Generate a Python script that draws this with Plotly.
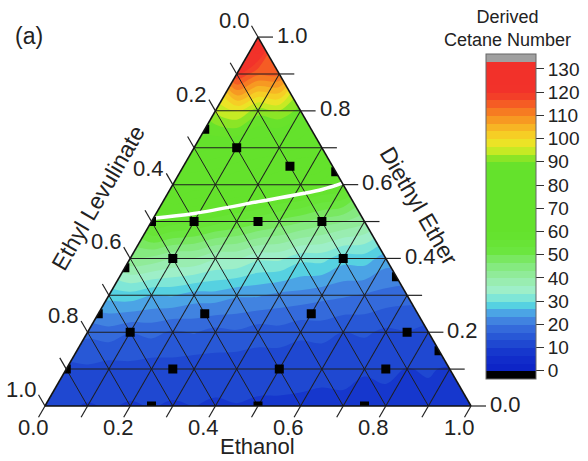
import numpy as np
import plotly.graph_objects as go

# ---------------------------------------------------------------------------
# Data
# ---------------------------------------------------------------------------
# Measured blends (mole fractions): diethyl ether, ethyl levulinate, ethanol
blend_dee = [0.75, 0.50, 0.375, 0.25, 0.10, 0.635, 0.35, 0.15, 0.00, 0.00, 0.00,
             0.70, 0.65, 0.50, 0.50, 0.50, 0.40, 0.40, 0.25, 0.25, 0.20, 0.20,
             0.10, 0.10, 0.10]
blend_el = [0.25, 0.50, 0.625, 0.75, 0.90, 0.00, 0.00, 0.00, 0.75, 0.50, 0.25,
            0.20, 0.10, 0.40, 0.25, 0.10, 0.50, 0.10, 0.50, 0.25, 0.70, 0.05,
            0.65, 0.40, 0.15]
blend_eth = [0.00, 0.00, 0.00, 0.00, 0.00, 0.365, 0.65, 0.85, 0.25, 0.50, 0.75,
             0.10, 0.25, 0.10, 0.25, 0.40, 0.10, 0.50, 0.25, 0.50, 0.10, 0.75,
             0.25, 0.50, 0.75]

# Highlighted iso-DCN line
iso_dee = [0.509, 0.522, 0.554, 0.587, 0.604]
iso_el = [0.491, 0.389, 0.222, 0.056, 0.000]
iso_eth = [0.000, 0.089, 0.224, 0.357, 0.396]

# Derived cetane number on the 0.1 composition lattice.
# Row k: diethyl ether fraction k/10; entries step ethanol 0, 0.1, ...
dcn_rows = [
    [9.8, 9.7, 9.6, 9.6, 9.5, 9.5, 9.4, 9.4, 9.3, 9.3, 9.2],
    [12.0, 11.7, 11.4, 11.1, 10.8, 10.5, 10.3, 10.1, 9.9, 9.7],
    [17.5, 16.8, 16.1, 15.4, 14.7, 14.0, 13.3, 12.6, 12.0],
    [28.0, 26.6, 25.2, 23.8, 22.4, 21.0, 19.6, 18.0],
    [43.0, 40.0, 37.0, 34.0, 31.0, 28.0, 25.0],
    [60.0, 57.0, 53.0, 49.0, 45.0, 41.0],
    [76.0, 72.0, 68.0, 64.0, 60.0],
    [85.0, 82.0, 79.0, 76.0],
    [94.0, 91.5, 88.5],
    [120.0, 114.0],
    [131.0],
]

grid_vals = [0.0, 0.1, 0.2, 0.3, 0.4, 0.5, 0.6, 0.7, 0.8, 0.9, 1.0]
label_vals = [0.0, 0.2, 0.4, 0.6, 0.8, 1.0]
cbar_ticks = [0, 10, 20, 30, 40, 50, 60, 70, 80, 90, 100, 110, 120, 130]

# ---------------------------------------------------------------------------
# Geometry / style
# ---------------------------------------------------------------------------
FIG_W, FIG_H = 588, 461
TRI_X0, TRI_BASE, TRI_W = 45.0, 406.0, 426.0
TRI_H = TRI_W * np.sqrt(3) / 2
SIN60, COS60 = np.sqrt(3) / 2, 0.5

FONT = "Liberation Sans, Arial, sans-serif"
INK = "#222222"

dom_x = [TRI_X0 / FIG_W, (TRI_X0 + TRI_W) / FIG_W]
dom_y = [(FIG_H - TRI_BASE) / FIG_H, (FIG_H - TRI_BASE + TRI_H) / FIG_H]

LEV_STEP = 10.0 / 3.0
N_BANDS = 40
LEV_START = 0.0
LEV_END = LEV_START + N_BANDS * LEV_STEP

# colour ramp of the DCN scale
ramp = [
    (0.0, "#0b22c6"), (7.0, "#1330cb"), (10.5, "#1c42cf"), (14.0, "#2553d5"),
    (17.5, "#3164da"), (21.0, "#3f7ddf"), (24.5, "#4a9de6"), (28.0, "#52cfe2"),
    (31.5, "#7de6d8"), (35.0, "#9eefc8"), (40.0, "#96eca6"), (46.0, "#82ea78"),
    (52.0, "#6ae63c"), (60.0, "#64e22c"), (88.0, "#64e22c"), (92.0, "#8ee526"),
    (95.0, "#c6ea24"), (99.0, "#f4e226"), (104.0, "#f7bd24"), (109.0, "#f79422"),
    (113.0, "#f66f22"), (117.0, "#f44a26"), (120.0, "#f2322a"), (134.0, "#f2302a"),
]


def hex_rgb(h):
    h = h.lstrip("#")
    return np.array([int(h[i:i + 2], 16) for i in (0, 2, 4)], dtype=float)


ramp_v = np.array([r[0] for r in ramp])
ramp_c = np.array([hex_rgb(r[1]) for r in ramp])


def ramp_color(v):
    rgb = [np.interp(v, ramp_v, ramp_c[:, i]) for i in range(3)]
    return "rgb(%d,%d,%d)" % tuple(int(round(c)) for c in rgb)


band_colors = [ramp_color(LEV_START + (i + 0.5) * LEV_STEP) for i in range(N_BANDS)]

# contour fill colours: each band is sampled at its mid value
n_lev = N_BANDS + 1
fill_scale = []
for i in range(-1, N_BANDS + 1):
    col = band_colors[min(max(i, 0), N_BANDS - 1)]
    fill_scale.append([(i + 1) / n_lev, col])

# stepped colour bar with an under-range (black) and over-range (grey) cap
cb_min = LEV_START - LEV_STEP
cb_max = LEV_END + LEV_STEP
segments = ["#000000"] + band_colors + ["#a0a0a0"]
n_seg = len(segments)
bar_scale = []
for s, col in enumerate(segments):
    bar_scale.append([s / n_seg, col])
    bar_scale.append([(s + 1) / n_seg, col])


def tern_px(dee, eth):
    x = TRI_X0 + TRI_W * (eth + dee / 2.0)
    y = TRI_BASE - TRI_H * dee
    return x, y


def paper(x, y):
    return x / FIG_W, 1 - y / FIG_H


# ---------------------------------------------------------------------------
# DCN surface (cartesian frame aligned with the ternary triangle)
# ---------------------------------------------------------------------------
lat_x, lat_y, lat_z = [], [], []
for k, row in enumerate(dcn_rows):
    dee = k / 10.0
    for j, val in enumerate(row):
        eth = j / 10.0
        el = 1.0 - dee - eth
        lat_x.append(round(eth - el, 6))
        lat_y.append(round(dee, 6))
        lat_z.append(val)

fig = go.Figure()

fig.add_trace(go.Contour(
    x=lat_x, y=lat_y, z=lat_z,
    autocontour=False,
    contours=dict(start=LEV_START, end=LEV_END, size=LEV_STEP,
                  coloring="fill", showlines=False),
    line=dict(width=0, smoothing=1.0),
    colorscale=fill_scale, showscale=False, hoverinfo="skip",
))

# blank out the corners of the frame that lie outside the triangle
X_LO, X_HI, Y_LO, Y_HI = -1.0, 1.0, 0.0, 1.0
for xs in ([X_LO, 0.0, X_LO, X_LO], [X_HI, 0.0, X_HI, X_HI]):
    fig.add_trace(go.Scatter(
        x=xs, y=[Y_LO, Y_HI, Y_HI, Y_LO], mode="lines", fill="toself",
        fillcolor="white", line=dict(color="white", width=1),
        showlegend=False, hoverinfo="skip",
    ))

# colour bar
fig.add_trace(go.Scatter(
    x=[None], y=[None], mode="markers", showlegend=False, hoverinfo="skip",
    marker=dict(
        color=[0], colorscale=bar_scale, cmin=cb_min, cmax=cb_max, showscale=True,
        colorbar=dict(
            x=486 / FIG_W, xanchor="left", xpad=0,
            y=1 - 53.5 / FIG_H, yanchor="top", ypad=0,
            len=325, lenmode="pixels", thickness=50, thicknessmode="pixels",
            outlinewidth=1, outlinecolor="#666666",
            tickmode="array", tickvals=cbar_ticks, ticks="outside",
            ticklen=8, tickwidth=1, tickcolor="#333333",
            tickfont=dict(family=FONT, size=19, color=INK),
        ),
    ),
))

# ---------------------------------------------------------------------------
# Ternary layer: grid, iso-line, measured blends
# ---------------------------------------------------------------------------
fig.add_trace(go.Scatterternary(
    a=iso_dee, b=iso_el, c=iso_eth, mode="lines",
    line=dict(color="white", width=3.5, shape="spline"),
    showlegend=False, hoverinfo="skip",
))
fig.add_trace(go.Scatterternary(
    a=blend_dee, b=blend_el, c=blend_eth, mode="markers",
    marker=dict(symbol="square", size=9, color="black", line=dict(width=0)),
    showlegend=False,
))

tern_axis = dict(
    tickmode="array", tickvals=grid_vals, showticklabels=False, ticks="",
    showgrid=True, gridcolor="#1e1e1e", gridwidth=1,
    showline=True, linecolor="#111111", linewidth=1.6,
    layer="above traces", title=dict(text=""),
)

annotations = []
shapes = []


def add_text(x, y, text, size, angle=0):
    px, py = paper(x, y)
    annotations.append(dict(
        x=px, y=py, xref="paper", yref="paper", text=text, showarrow=False,
        xanchor="center", yanchor="middle", textangle=angle, borderpad=0,
        font=dict(family=FONT, size=size, color=INK),
    ))


def add_tick(x, y, dx, dy):
    x0, y0 = paper(x, y)
    x1, y1 = paper(x + dx, y + dy)
    shapes.append(dict(type="line", xref="paper", yref="paper",
                       x0=x0, y0=y0, x1=x1, y1=y1,
                       line=dict(color=INK, width=1.2)))


# tick marks continue the grid lines past each edge
TICK_LEN = 13
for v in grid_vals:
    x, y = tern_px(1.0 - v, 0.0)       # ethyl levulinate, left edge
    add_tick(x, y, -TICK_LEN * COS60, -TICK_LEN * SIN60)
    x, y = tern_px(0.0, v)             # ethanol, bottom edge
    add_tick(x, y, -TICK_LEN * COS60, TICK_LEN * SIN60)
    x, y = tern_px(v, 1.0 - v)         # diethyl ether, right edge
    add_tick(x, y, TICK_LEN + 2, 0)

TICK_FONT = 22
for v in label_vals:
    txt = "%.1f" % v
    x, y = tern_px(1.0 - v, 0.0)
    add_text(x - 24, y - 16.5, txt, TICK_FONT)
    x, y = tern_px(0.0, v)
    add_text(x - 12, y + 21.5, txt, TICK_FONT)
    x, y = tern_px(v, 1.0 - v)
    add_text(x + 34.5, y - 2, txt, TICK_FONT)

add_text(98, 198, "Ethyl Levulinate", 23, -60)
add_text(419, 206, "Diethyl Ether", 23, 60)
add_text(257.5, 446.5, "Ethanol", 22)
add_text(29, 36, "(a)", 23)
add_text(507, 29, "Derived<br>Cetane Number", 18)

fig.update_layout(
    width=FIG_W, height=FIG_H, autosize=False,
    margin=dict(l=0, r=0, t=0, b=0, pad=0),
    paper_bgcolor="white", plot_bgcolor="white",
    showlegend=False,
    xaxis=dict(domain=dom_x, range=[X_LO, X_HI], visible=False, fixedrange=True),
    yaxis=dict(domain=dom_y, range=[Y_LO, Y_HI], visible=False, fixedrange=True),
    ternary=dict(
        sum=1, domain=dict(x=dom_x, y=dom_y), bgcolor="rgba(0,0,0,0)",
        aaxis=tern_axis, baxis=tern_axis, caxis=tern_axis,
    ),
    annotations=annotations,
    shapes=shapes,
)

fig.write_html("out.html")
